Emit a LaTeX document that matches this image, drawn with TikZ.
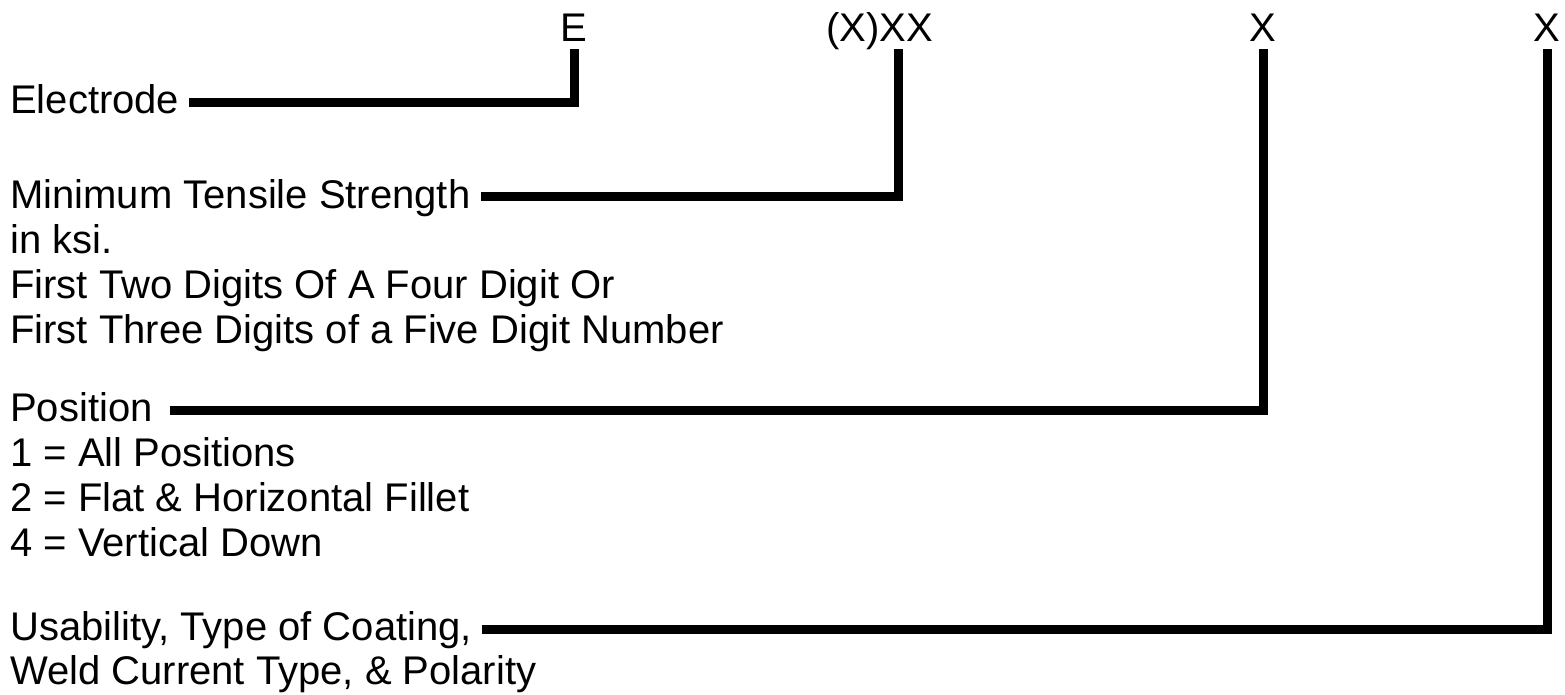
\documentclass[tikz,border=0pt]{standalone}
\usepackage{fontspec}
\setmainfont{Liberation Sans}
\begin{document}
\begin{tikzpicture}[x=1pt,y=-1pt,
  lbl/.style={anchor=base west, inner sep=0pt, text height=22pt, text depth=0pt, font=\fontsize{40}{45}\selectfont},
  code/.style={anchor=base, inner sep=0pt, text height=22pt, text depth=0pt, font=\fontsize{40}{45}\selectfont},
  conn/.style={line width=9pt, line join=miter, shorten <=10pt, shorten >=7pt}]
\useasboundingbox (0,0) rectangle (1565,695);

% top code letters
\node[code] (cE)  at (574,42)  {E};
\node[code] (cXX) at (880,42)  {(X)XX};
\node[code] (cX1) at (1263,42) {X};
\node[code] (cX2) at (1547,42) {X};
\coordinate (cXXs) at ([xshift=18pt]cXX.south);

% left descriptions
\node[lbl] (elec) at (10,114) {Electrode};

\node[lbl] (tens)  at (10,208) {Minimum Tensile Strength};
\node[lbl] (tens2) at (10,253) {in ksi.};
\node[lbl] (tens3) at (10,298) {First Two Digits Of A Four Digit Or};
\node[lbl] (tens4) at (10,343) {First Three Digits of a Five Digit Number};

\node[lbl] (pos)  at (10,421) {Position};
\node[lbl] (pos1) at (10,466) {1 = All Positions};
\node[lbl] (pos2) at (10,511) {2 = Flat \& Horizontal Fillet};
\node[lbl] (pos3) at (10,556) {4 = Vertical Down};

\node[lbl] (use)  at (10,640) {Usability, Type of Coating,};
\node[lbl] (use2) at (10,684) {Weld Current Type, \& Polarity};

% connectors
\draw[conn] (elec.east) -| (cE.south);
\draw[conn] (tens.east) -| (cXXs);
\draw[conn, shorten <=17pt] (pos.east) -| (cX1.south);
\draw[conn] (use.east) -| (cX2.south);
\end{tikzpicture}
\end{document}
